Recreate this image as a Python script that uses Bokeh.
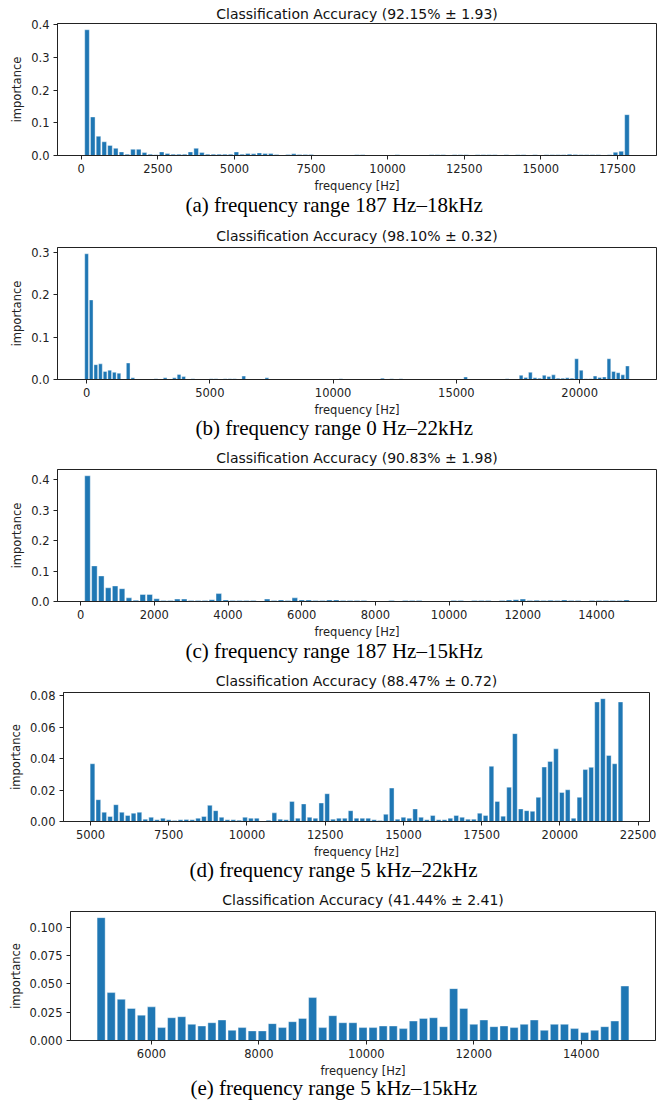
from bokeh.plotting import figure
from bokeh.models import FixedTicker, Title, Range1d, NumeralTickFormatter
from bokeh.embed import file_html
from bokeh.resources import INLINE

BIN_HZ = 187.5  # FFT bin spacing (48 kHz / 256)

# ---------------- data ----------------
bins_a = list(range(1, 96))
imp_a = [0.385, 0.118, 0.059, 0.042, 0.031, 0.022, 0.011, 0.004, 0.019, 0.019,
         0.009, 0.004, 0.002, 0.011, 0.006, 0.004, 0.004, 0.004, 0.011, 0.022,
         0.009, 0.004, 0.004, 0.004, 0.004, 0.004, 0.011, 0.004, 0.006, 0.005,
         0.008, 0.006, 0.006, 0.003, 0.0, 0.003, 0.005, 0.003, 0.003, 0.003,
         0.0, 0.0, 0.0, 0.0, 0.0, 0.0, 0.0, 0.002, 0.002, 0.0,
         0.0, 0.0, 0.0, 0.0, 0.002, 0.0, 0.0, 0.0, 0.0, 0.0,
         0.002, 0.002, 0.002, 0.0, 0.002, 0.002, 0.002, 0.0, 0.002, 0.002,
         0.002, 0.002, 0.0, 0.002, 0.0, 0.002, 0.002, 0.0, 0.002, 0.0,
         0.002, 0.002, 0.002, 0.002, 0.004, 0.003, 0.002, 0.002, 0.002, 0.002,
         0.0, 0.002, 0.010, 0.013, 0.125]

bins_b = list(range(0, 118))
imp_b = [0.297, 0.188, 0.035, 0.037, 0.019, 0.022, 0.017, 0.015, 0.0, 0.039,
         0.004, 0.0, 0.0, 0.0, 0.0, 0.002, 0.0, 0.004, 0.0, 0.004,
         0.012, 0.007, 0.0, 0.002, 0.0, 0.0, 0.0, 0.002, 0.002, 0.0,
         0.002, 0.002, 0.002, 0.0, 0.008, 0.0, 0.0, 0.0, 0.0, 0.004,
         0.0, 0.0, 0.0, 0.0, 0.0, 0.0, 0.0, 0.0, 0.0, 0.0,
         0.0, 0.0, 0.0, 0.0, 0.0, 0.002, 0.0, 0.0, 0.0, 0.0,
         0.0, 0.0, 0.0, 0.0, 0.003, 0.0, 0.002, 0.0, 0.002, 0.0,
         0.0, 0.0, 0.0, 0.0, 0.0, 0.0, 0.0, 0.0, 0.0, 0.0,
         0.0, 0.0, 0.006, 0.0, 0.0, 0.0, 0.0, 0.0, 0.0, 0.0,
         0.0, 0.002, 0.0, 0.0, 0.010, 0.005, 0.017, 0.004, 0.003, 0.010,
         0.007, 0.011, 0.003, 0.003, 0.004, 0.003, 0.049, 0.022, 0.002, 0.002,
         0.008, 0.005, 0.006, 0.049, 0.019, 0.016, 0.011, 0.032]

bins_c = list(range(1, 80))
imp_c = [0.413, 0.117, 0.084, 0.045, 0.051, 0.042, 0.012, 0.004, 0.023, 0.023,
         0.009, 0.003, 0.003, 0.008, 0.008, 0.003, 0.003, 0.003, 0.006, 0.026,
         0.005, 0.003, 0.003, 0.003, 0.003, 0.0, 0.008, 0.003, 0.005, 0.003,
         0.012, 0.005, 0.005, 0.003, 0.003, 0.005, 0.005, 0.003, 0.003, 0.003,
         0.003, 0.0, 0.0, 0.0, 0.003, 0.0, 0.003, 0.003, 0.003, 0.0,
         0.0, 0.0, 0.0, 0.003, 0.003, 0.0, 0.003, 0.003, 0.003, 0.0,
         0.003, 0.005, 0.006, 0.008, 0.003, 0.004, 0.003, 0.004, 0.003, 0.005,
         0.003, 0.003, 0.0, 0.003, 0.003, 0.003, 0.003, 0.003, 0.005]

bins_d = list(range(27, 118))
imp_d = [0.0368, 0.0139, 0.0059, 0.0032, 0.0107, 0.0059, 0.0038, 0.0053, 0.0059, 0.0015,
         0.0027, 0.0011, 0.0021, 0.0011, 0.0006, 0.0011, 0.0013, 0.0011, 0.0021, 0.0032,
         0.0103, 0.0069, 0.0027, 0.0011, 0.0011, 0.0008, 0.0027, 0.0021, 0.0021, 0.0002,
         0.0008, 0.0055, 0.0015, 0.0011, 0.0128, 0.0021, 0.0112, 0.0027, 0.0021, 0.0118,
         0.0177, 0.0015, 0.0021, 0.0021, 0.0069, 0.0021, 0.0021, 0.0021, 0.0011, 0.0006,
         0.0046, 0.0213, 0.0015, 0.0027, 0.0021, 0.0080, 0.0027, 0.0011, 0.0038, 0.0011,
         0.0011, 0.0021, 0.0038, 0.0027, 0.0015, 0.0015, 0.0053, 0.0038, 0.0352, 0.0128,
         0.0034, 0.0219, 0.0560, 0.0080, 0.0069, 0.0065, 0.0154, 0.0347, 0.0383, 0.0463,
         0.0185, 0.0202, 0.0021, 0.0154, 0.0331, 0.0345, 0.0762, 0.0783, 0.0421, 0.0368,
         0.0762]

bins_e = list(range(27, 80))
imp_e = [0.1085, 0.0423, 0.0364, 0.0283, 0.0224, 0.0297, 0.0114, 0.0201, 0.0210, 0.0143,
         0.0128, 0.0157, 0.0181, 0.0090, 0.0114, 0.0085, 0.0085, 0.0149, 0.0114, 0.0166,
         0.0195, 0.0379, 0.0114, 0.0219, 0.0157, 0.0157, 0.0114, 0.0114, 0.0128, 0.0128,
         0.0105, 0.0172, 0.0195, 0.0201, 0.0122, 0.0458, 0.0283, 0.0143, 0.0181, 0.0122,
         0.0128, 0.0114, 0.0143, 0.0181, 0.0090, 0.0143, 0.0143, 0.0105, 0.0070, 0.0090,
         0.0122, 0.0172, 0.0481]

titles = ["Classification Accuracy (92.15% \u00b1 1.93)",
          "Classification Accuracy (98.10% \u00b1 0.32)",
          "Classification Accuracy (90.83% \u00b1 1.98)",
          "Classification Accuracy (88.47% \u00b1 0.72)",
          "Classification Accuracy (41.44% \u00b1 2.41)"]
captions = ["(a) frequency range 187 Hz\u201318kHz",
            "(b) frequency range 0 Hz\u201322kHz",
            "(c) frequency range 187 Hz\u201315kHz",
            "(d) frequency range 5 kHz\u201322kHz",
            "(e) frequency range 5 kHz\u201315kHz"]
xticks = [[0, 2500, 5000, 7500, 10000, 12500, 15000, 17500],
          [0, 5000, 10000, 15000, 20000],
          [0, 2000, 4000, 6000, 8000, 10000, 12000, 14000],
          [5000, 7500, 10000, 12500, 15000, 17500, 20000, 22500],
          [6000, 8000, 10000, 12000, 14000]]
yticks = [[0.0, 0.1, 0.2, 0.3, 0.4],
          [0.0, 0.1, 0.2, 0.3],
          [0.0, 0.1, 0.2, 0.3, 0.4],
          [0.0, 0.02, 0.04, 0.06, 0.08],
          [0.0, 0.025, 0.05, 0.075, 0.1]]
yfmts = ["0.0", "0.0", "0.0", "0.00", "0.000"]

BAR_COLOR = "#1f77b4"
SANS = "DejaVu Sans"
SERIF = "Liberation Serif"
PAGE_W = 668
CAP_PX = 21

# Times / Liberation Serif advance widths (1/1000 em), used to centre captions on the page
_SERIF_W = {" ": 250, "(": 333, ")": 333, "a": 444, "b": 500, "c": 444, "d": 500,
            "e": 444, "f": 333, "g": 500, "k": 500, "n": 500, "q": 500, "r": 333,
            "u": 500, "y": 500, "z": 444, "H": 722, "\u2013": 500}


def serif_width(s, px):
    return sum(_SERIF_W.get(ch, 500) for ch in s) * px / 1000.0


def make_panel(bins, vals, title, caption, xt, yt, yfmt, FW, FH, T, B, L, R, t_so, cap_so):
    freqs = [b * BIN_HZ for b in bins]
    w = 0.8 * BIN_HZ
    lo = min(freqs) - w / 2
    hi = max(freqs) + w / 2
    pad = 0.05 * (hi - lo)
    p = figure(frame_width=FW, frame_height=FH, output_backend="svg", toolbar_location=None,
               x_range=Range1d(lo - pad, hi + pad), y_range=Range1d(0, max(vals) * 1.05),
               min_border_top=T, min_border_bottom=B, min_border_left=L, min_border_right=R)
    p.vbar(x=freqs, top=vals, width=w, bottom=0, fill_color=BAR_COLOR,
           line_color="white", line_width=0.4)
    p.title.text = title
    p.title.align = "center"
    p.title.text_font = SANS
    p.title.text_font_size = "14px"
    p.title.text_font_style = "normal"
    p.title.text_color = "#111111"
    p.title.standoff = t_so
    p.xgrid.visible = False
    p.ygrid.visible = False
    p.outline_line_color = "#222222"
    p.outline_line_width = 1
    p.outline_line_alpha = 1
    p.background_fill_color = "white"
    p.border_fill_color = "white"
    for ax in (p.xaxis[0], p.yaxis[0]):
        ax.axis_line_color = "#222222"
        ax.major_tick_line_color = "#222222"
        ax.major_tick_out = 4
        ax.major_tick_in = 0
        ax.minor_tick_out = 0
        ax.minor_tick_in = 0
        ax.major_label_text_font = SANS
        ax.major_label_text_font_size = "11.5px"
        ax.major_label_text_color = "#222222"
        ax.axis_label_text_font = SANS
        ax.axis_label_text_font_size = "11.5px"
        ax.axis_label_text_font_style = "normal"
        ax.axis_label_text_color = "#222222"
    p.xaxis.ticker = FixedTicker(ticks=xt)
    p.xaxis.formatter = NumeralTickFormatter(format="0")
    p.yaxis.ticker = FixedTicker(ticks=yt)
    p.yaxis.formatter = NumeralTickFormatter(format=yfmt)
    p.xaxis.axis_label = "frequency [Hz]"
    p.yaxis.axis_label = "importance"
    p.xaxis.major_label_standoff = 4
    p.xaxis.axis_label_standoff = 3
    p.yaxis.major_label_standoff = 4
    p.yaxis.axis_label_standoff = 4
    # caption centred on the page (not on the frame)
    cap_left = PAGE_W / 2 - 0.5 - serif_width(caption, CAP_PX) / 2
    p.add_layout(Title(text=caption, align="left", offset=int(round(cap_left - L)),
                       text_font=SERIF, text_font_size="%dpx" % CAP_PX,
                       text_font_style="normal", text_color="black",
                       standoff=cap_so), "below")
    return p


# frame_w, frame_h, top, bottom, left, right, title standoff, caption standoff
specs = [
    (bins_a, imp_a, 599, 132, 23, 65, 57, 12, 4, -10),
    (bins_b, imp_b, 599, 132, 27, 63, 57, 12, 8, -12),
    (bins_c, imp_c, 599, 132, 27, 64, 57, 12, 8, -10),
    (bins_d, imp_d, 586, 129, 27, 63, 63, 19, 8, -12),
    (bins_e, imp_e, 585, 129, 27, 60, 70, 13, 8, -14),
]
panels = []
for i, (bins, vals, FW, FH, T, B, L, R, tso, cso) in enumerate(specs):
    panels.append(make_panel(bins, vals, titles[i], captions[i], xticks[i], yticks[i],
                             yfmts[i], FW, FH, T, B, L, R, tso, cso))

open("out.html", "w").write(file_html(tuple(panels), INLINE))
